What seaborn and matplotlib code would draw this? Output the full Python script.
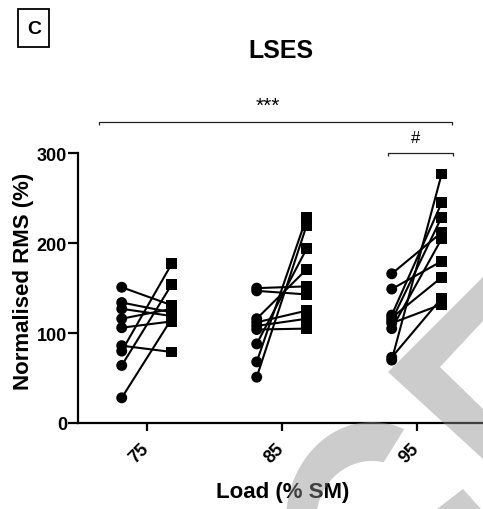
import numpy as np
import pandas as pd
import matplotlib
matplotlib.use("Agg")
import matplotlib.pyplot as plt
import seaborn as sns
from matplotlib.patches import Polygon, Rectangle

# ---------------- data ----------------
loads = ["75", "85", "95"]
pre_75 = [151, 134, 127, 116, 106, 86, 80, 64, 28]
post_75 = [131, 123, 119, 127, 113, 79, 177, 154, 116]
pre_85 = [150, 147, 116, 112, 108, 104, 88, 68, 51]
post_85 = [152, 143, 171, 125, 116, 105, 194, 229, 220]
pre_95 = [166, 149, 120, 117, 114, 111, 105, 73, 70]
post_95 = [212, 180, 245, 162, 229, 132, 205, 139, 277]
y_ticks = [0, 100, 200, 300]

title = "LSES"
panel = "C"
xlabel = "Load (% SM)"
ylabel = "Normalised RMS (%)"
sig_all = "***"
sig_95 = "#"

# ---------------- style ----------------
sns.set_theme(style="ticks")
plt.rcParams['font.family'] = ['Liberation Sans', 'DejaVu Sans']
plt.rcParams['text.color'] = 'black'
plt.rcParams['axes.labelcolor'] = 'black'
plt.rcParams['xtick.color'] = 'black'
plt.rcParams['ytick.color'] = 'black'
plt.rcParams['axes.edgecolor'] = 'black'

W, H = 483, 510
fig = plt.figure(figsize=(W / 100, H / 100), dpi=100)


def fx(px):
    return px / W


def fy(py):
    return 1 - py / H


ax_left, ax_bottom, ax_top = 78, 424, 154.3
ax = fig.add_axes([fx(ax_left), fy(ax_bottom), 1 - fx(ax_left), fy(ax_top) - fy(ax_bottom)])

offset = 0.185
rows = []
for gi, (lab, pre, post) in enumerate(zip(loads, [pre_75, pre_85, pre_95], [post_75, post_85, post_95])):
    for si, (a, b) in enumerate(zip(pre, post)):
        rows.append(dict(pair=f"{lab}-{si}", load=lab, phase="pre", pos=gi - offset, value=a))
        rows.append(dict(pair=f"{lab}-{si}", load=lab, phase="post", pos=gi + offset, value=b))
df = pd.DataFrame(rows)

sns.lineplot(data=df, x="pos", y="value", units="pair", estimator=None, color="black",
             lw=1.5, sort=False, ax=ax, legend=False)
sns.scatterplot(data=df, x="pos", y="value", style="phase", markers={"pre": "o", "post": "s"},
                color="black", s=62, edgecolor="none", linewidth=0, ax=ax, legend=False,
                zorder=3, clip_on=False)

# axes scaling: 135 px per category, tick 75 at px 146.7
px_per_cat = 135.0
ax.set_xlim(-(146.7 - ax_left) / px_per_cat, 2 + (W - 416.7) / px_per_cat)
ax.set_ylim(0, 300)
ax.set_xticks(range(len(loads)))
ax.set_xticklabels(loads, rotation=45, ha="right", va="center", rotation_mode="anchor",
                   fontsize=13, fontweight="bold", color="black")
ax.set_yticks(y_ticks)
ax.set_yticklabels([str(v) for v in y_ticks], fontsize=13, fontweight="bold", color="black")
sns.despine(ax=ax)
for s in ["left", "bottom"]:
    ax.spines[s].set_linewidth(1.6)
    ax.spines[s].set_color("black")
ax.tick_params(axis="y", length=7, width=1.6, pad=1, colors="black")
ax.tick_params(axis="x", length=6, width=1.6, pad=10, colors="black")

ax.set_ylabel(ylabel, fontsize=16, fontweight="bold", color="black")
ax.yaxis.set_label_coords(-0.108, 0.53)
ax.set_xlabel(xlabel, fontsize=16, fontweight="bold", color="black")
ax.xaxis.set_label_coords(0.506, -0.215)

ppu = (ax_bottom - ax_top) / 300.0


def ypx(py):
    return (ax_bottom - py) / ppu


def xpx(px):
    return (px - 146.7) / px_per_cat


# significance brackets
def bracket(x0, x1, y, drop):
    ax.plot([x0, x0, x1, x1], [y - drop, y, y, y - drop], color="#222222", lw=0.9,
            clip_on=False, solid_capstyle="butt")


bracket(xpx(99), xpx(452), ypx(123.3), 3.5)
bracket(xpx(388), xpx(453), ypx(154), 3.5)
ax.text(xpx(268), ypx(106), sig_all, ha="center", va="center", fontsize=15, color="black",
        clip_on=False)
ax.text(xpx(416), ypx(139), sig_95, ha="center", va="center", fontsize=12, color="black",
        clip_on=False)

# title and panel label
fig.text(fx(281), fy(51), title, ha="center", va="center", fontsize=18, fontweight="bold",
         color="black")
fig.add_artist(Rectangle((fx(18), fy(48)), fx(31), 38 / H, fill=False, lw=1.3,
                         edgecolor="black", transform=fig.transFigure))
fig.text(fx(34.5), fy(29), panel, ha="center", va="center", fontsize=14, fontweight="bold",
         color="black")

# faint watermark shapes (semi-transparent overlay)
wm_color = (142 / 255, 142 / 255, 142 / 255)
wm_alpha = 0.45


def add_wm(pts):
    p = Polygon([(fx(x), fy(y)) for x, y in pts], closed=True, facecolor=wm_color,
                edgecolor="none", alpha=wm_alpha, transform=fig.transFigure, zorder=20)
    fig.add_artist(p)


add_wm([(483, 278), (388, 373), (483, 460), (483, 410), (440, 368), (483, 322)])
cx, cy = 372, 522
t_out = np.radians(np.linspace(-68, -200, 60))
t_in = np.radians(np.linspace(-200, -78, 60))
ring = [(cx + 86 * np.cos(t), cy + 99 * np.sin(t)) for t in t_out] + \
       [(cx + 56 * np.cos(t), cy + 60 * np.sin(t)) for t in t_in]
add_wm(ring)
add_wm([(437, 510), (463, 490), (481, 510)])

fig.savefig("out.png", dpi=100)
